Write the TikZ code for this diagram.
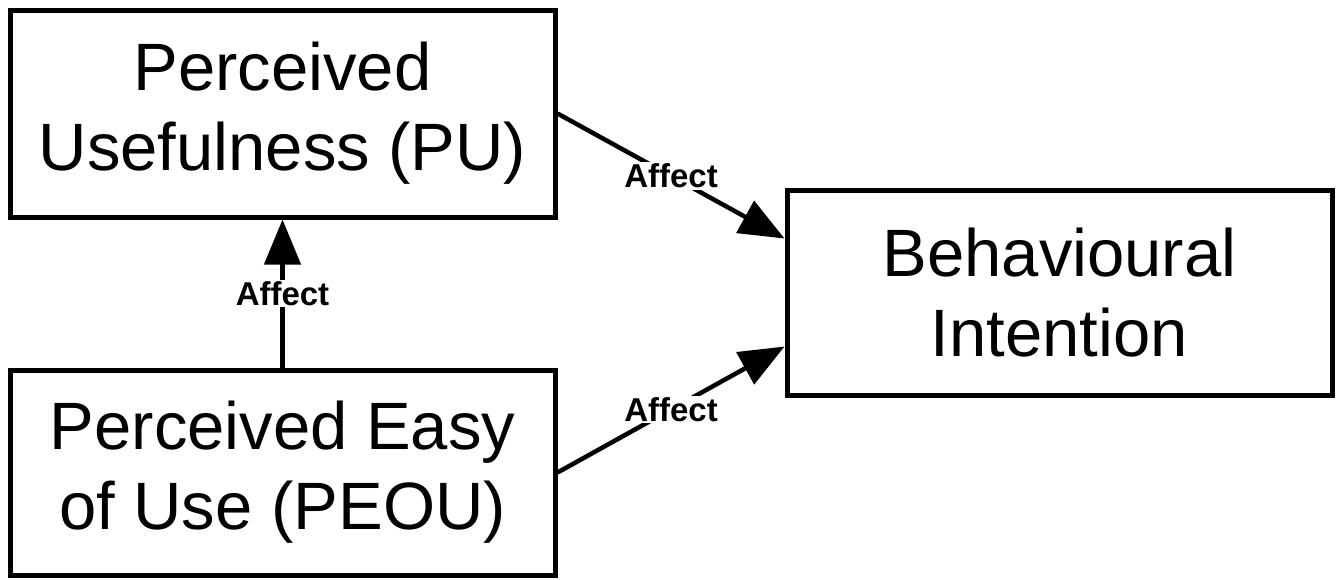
\documentclass[tikz,border=0pt]{standalone}
\usepackage{fontspec}
\setmainfont{Liberation Sans}
\usetikzlibrary{arrows.meta}
\begin{document}
\begin{tikzpicture}[x=1pt,y=-1pt,
  box/.style={draw=black, line width=5pt, rectangle, minimum width=545pt, inner sep=0pt,
    align=center, font=\fontsize{67}{80}\selectfont},
  conn/.style={draw=black, line width=4.5pt, -{Triangle[length=45pt,width=36pt]}},
  lbl/.style={fill=white, inner sep=1.5pt, font=\bfseries\fontsize{33}{36}\selectfont}]
\useasboundingbox (0,0) rectangle (1342,579);
\node[box, minimum height=207pt] (PU) at (282.5,113.5) {Perceived\\Usefulness (PU)};
\node[box, minimum height=205pt] (PEOU) at (282.5,472.5) {Perceived Easy\\of Use (PEOU)};
\node[box, minimum height=205pt] (BI) at (1059.5,292.5) {Behavioural\\Intention};
\draw[conn] (PU.east) -- node[lbl] {Affect} ([yshift=54pt]BI.west);
\draw[conn] (PEOU.east) -- node[lbl] {Affect} ([yshift=-54pt]BI.west);
\draw[conn] (PEOU.north) -- node[lbl] {Affect} (PU.south);
\end{tikzpicture}
\end{document}
